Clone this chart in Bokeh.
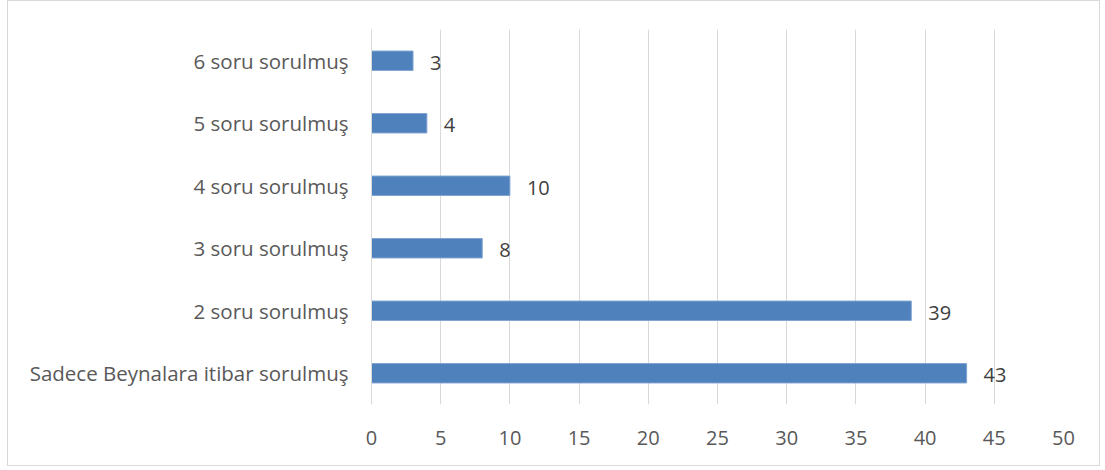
from bokeh.plotting import figure
from bokeh.models import ColumnDataSource, FactorRange, LabelSet, FixedTicker, Range1d
from bokeh.core.properties import value
from bokeh.embed import file_html
from bokeh.resources import INLINE

categories = ["Sadece Beynalara itibar sorulmuş", "2 soru sorulmuş", "3 soru sorulmuş",
              "4 soru sorulmuş", "5 soru sorulmuş", "6 soru sorulmuş"]
values = [43, 39, 8, 10, 4, 3]
x_ticks = [0, 5, 10, 15, 20, 25, 30, 35, 40, 45, 50]

FONT = "Open Sans"
TXT = "#595959"

src = ColumnDataSource(dict(cat=categories, val=values, lbl=[str(v) for v in values]))

p = figure(width=1093, height=466, y_range=FactorRange(factors=categories),
           x_range=Range1d(0, 50), output_backend="svg", toolbar_location=None,
           min_border_left=363, min_border_right=38, min_border_top=28, min_border_bottom=63)
p.styles = {"border": "1px solid #d9d9d9", "box-sizing": "border-box", "margin-left": "7px"}
p.outline_line_color = None
p.background_fill_color = "white"
p.border_fill_color = "white"

p.hbar(y="cat", right="val", left=0, height=0.31, source=src,
       fill_color="#4F81BD", line_color="#7FA3D1", line_width=1)

labels = LabelSet(x="val", y="cat", text="lbl", source=src, x_offset=17, y_offset=-2,
                  text_baseline="middle", text_align="left", text_font=value(FONT),
                  text_font_size="20px", text_color="#404040")
p.add_layout(labels)

p.xaxis.ticker = FixedTicker(ticks=x_ticks)
p.xaxis.axis_line_color = None
p.xaxis.major_tick_line_color = None
p.xaxis.minor_tick_line_color = None
p.xaxis.major_label_text_font = FONT
p.xaxis.major_label_text_font_size = "20px"
p.xaxis.major_label_text_color = TXT
p.xaxis.major_label_standoff = 20

p.yaxis.axis_line_color = "#d9d9d9"
p.yaxis.major_tick_line_color = None
p.yaxis.minor_tick_line_color = None
p.yaxis.major_label_text_font = FONT
p.yaxis.major_label_text_font_size = "20.5px"
p.yaxis.major_label_text_color = TXT
p.yaxis.major_label_standoff = 17

p.xgrid.grid_line_color = "#d9d9d9"
p.xgrid.grid_line_width = 1
p.ygrid.grid_line_color = None

open("out.html", "w").write(file_html(p, INLINE))
